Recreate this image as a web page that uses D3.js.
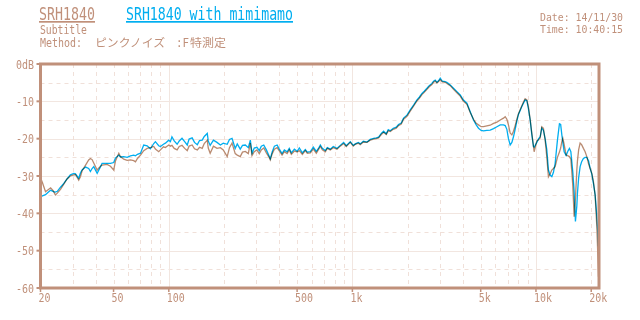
<!DOCTYPE html>
<html><head><meta charset="utf-8">
<script src="https://cdn.jsdelivr.net/npm/d3@7"></script>
<style>body{margin:0;background:#fff}svg{display:block}</style>
</head><body><svg id="c" width="640" height="320"></svg>
<script>
// ---- data ----
const freqs = [20,20.5,21.3,22.1,22.7,23.5,24.1,24.7,25.7,26.8,27.9,29.1,30.4,31.0,32.3,33.0,33.7,35.2,36.6,37.4,38.2,39.0,40.7,42.4,43.3,46.1,48.1,50.1,51.2,53.4,54.5,56.8,59.3,61.8,64.4,65.8,67.5,70.1,73.0,76.2,79.4,82.8,84.5,88.1,90.0,93.5,95.8,99.9,102,104,107,111,114,118,122,126,129,134,138,143,147,152,156,162,164,168,175,183,191,198,208,214,221,230,236,245,252,261,271,278,284,292,302,311,319,329,340,350,357,366,376,389,400,414,426,441,453,465,483,500,514,534,554,568,590,613,636,652,669,686,712,730,758,787,824,859,896,926,974,1011,1037,1077,1104,1147,1201,1251,1305,1350,1389,1437,1479,1529,1568,1608,1670,1734,1784,1846,1900,1983,2066,2154,2248,2314,2394,2462,2548,2622,2712,2768,2826,2888,2946,3010,3086,3204,3286,3412,3556,3710,3868,4016,4206,4384,4570,4726,4864,5030,5180,5402,5634,5872,6128,6386,6654,6798,6942,7082,7236,7392,7542,7704,7870,8030,8378,8548,8732,8920,9100,9298,9498,9690,9774,10110,10340,10540,10758,10982,11220,11460,11694,11948,12200,12452,12720,13092,13424,13630,13836,14012,14242,14602,14978,15220,15490,15740,15882,16142,16406,16698,16824,17080,17402,17732,18136,18530,18922,19356,19726,20152,20560,21000,21260,21460,21620,21900];
const mimimamo = [-35.5,-35.3,-35.0,-34.3,-33.8,-34.2,-34.3,-34.1,-33.0,-32.0,-30.8,-29.7,-29.3,-29.4,-30.6,-29.2,-28.4,-27.6,-28.0,-28.8,-28.0,-27.5,-29.3,-27.6,-26.6,-26.6,-26.6,-26.4,-25.2,-24.4,-24.9,-24.8,-25.0,-24.6,-24.4,-24.6,-24.2,-23.9,-21.7,-21.9,-22.7,-21.3,-20.8,-21.9,-22.1,-21.5,-21.2,-20.4,-20.8,-19.5,-20.6,-21.5,-20.6,-19.9,-20.8,-21.7,-20.1,-19.8,-21.0,-21.6,-20.5,-20.4,-19.4,-18.6,-20.6,-21.8,-20.4,-21.0,-21.7,-21.2,-21.5,-20.2,-19.9,-22.6,-21.4,-22.8,-21.8,-21.7,-22.4,-20.4,-23.9,-22.5,-22.3,-23.2,-22.0,-21.7,-23.0,-24.4,-25.4,-23.5,-22.0,-21.7,-22.8,-24.0,-23.0,-23.5,-22.6,-23.8,-22.8,-23.4,-22.5,-23.8,-22.9,-23.6,-23.5,-22.3,-23.4,-22.7,-21.7,-22.6,-23.2,-22.4,-22.8,-22.1,-22.6,-21.8,-21.0,-21.9,-20.8,-21.8,-21.4,-21.0,-21.4,-20.7,-20.9,-20.2,-19.9,-19.8,-19.6,-18.6,-18.0,-18.7,-17.6,-17.9,-17.2,-16.9,-16.2,-15.8,-14.5,-13.7,-12.3,-11.0,-9.6,-8.9,-7.9,-7.3,-6.5,-5.8,-5.2,-4.6,-4.3,-4.9,-4.5,-3.8,-4.6,-4.7,-5.0,-5.6,-6.5,-7.4,-8.3,-9.6,-10.5,-12.8,-15.0,-16.3,-17.2,-17.8,-17.9,-17.8,-17.7,-17.3,-16.8,-16.3,-16.3,-16.5,-17.5,-20.0,-21.7,-21.0,-19.5,-17.5,-15.3,-13.5,-11.4,-10.5,-9.6,-9.8,-12.0,-15.0,-19.0,-22.1,-22.3,-21.0,-20.0,-19.5,-17.2,-17.8,-20.0,-23.0,-28.4,-29.8,-30.2,-29.0,-26.6,-20.4,-16.0,-16.2,-19.0,-21.0,-23.5,-24.5,-23.2,-22.6,-23.5,-27.0,-29.0,-34.0,-42.2,-38.0,-34.6,-30.5,-27.5,-26.2,-25.3,-25.0,-25.0,-26.0,-27.9,-29.5,-32.0,-35.0,-38.2,-41.0,-43.6,-48.9];
const srh1840 = [-30.5,-31.8,-34.2,-33.6,-33.2,-34.0,-35.1,-34.6,-33.6,-32.2,-30.8,-30.0,-29.7,-29.6,-31.1,-30.2,-28.6,-27.1,-25.7,-25.3,-25.6,-26.5,-28.4,-27.4,-27.1,-26.9,-27.4,-28.4,-26.0,-23.9,-24.8,-25.5,-25.8,-25.7,-25.9,-26.2,-25.3,-24.4,-23.2,-22.6,-22.4,-22.1,-22.8,-23.5,-23.0,-22.2,-22.4,-21.7,-22.0,-21.8,-22.6,-23.0,-22.1,-21.8,-22.6,-23.2,-22.0,-21.7,-22.7,-23.0,-22.3,-22.6,-21.3,-20.4,-22.5,-23.9,-22.0,-22.6,-22.4,-23.0,-24.8,-22.4,-21.2,-24.0,-24.4,-24.8,-23.6,-23.4,-24.0,-21.2,-24.5,-23.5,-23.0,-24.0,-23.0,-22.5,-23.8,-24.8,-25.7,-24.0,-22.8,-22.4,-23.3,-24.4,-23.5,-24.0,-23.0,-24.2,-23.3,-23.6,-23.2,-24.2,-23.2,-23.9,-23.8,-22.8,-23.9,-23.0,-22.1,-23.0,-23.5,-22.6,-23.0,-22.4,-22.8,-22.0,-21.3,-22.1,-21.0,-22.0,-21.5,-21.2,-21.6,-20.9,-21.0,-20.4,-20.1,-20.0,-19.8,-18.9,-18.3,-18.9,-17.9,-18.1,-17.5,-17.2,-16.5,-16.1,-14.8,-14.0,-12.6,-11.3,-9.9,-9.2,-8.2,-7.6,-6.8,-6.1,-5.5,-4.9,-4.6,-5.1,-4.7,-4.2,-4.8,-4.9,-5.3,-5.8,-6.8,-7.7,-8.6,-9.9,-10.8,-13.0,-14.8,-15.9,-16.3,-16.8,-16.8,-16.6,-16.4,-15.9,-15.6,-15.0,-14.5,-14.1,-14.8,-16.3,-18.5,-19.0,-18.0,-16.5,-14.8,-13.3,-11.2,-10.2,-9.3,-9.6,-11.5,-14.8,-18.6,-22.0,-23.5,-20.6,-20.3,-19.8,-16.8,-17.2,-20.4,-25.0,-30.2,-29.4,-28.4,-28.0,-27.5,-25.0,-23.6,-22.5,-20.8,-19.9,-21.5,-24.4,-24.6,-24.8,-25.5,-30.0,-32.9,-40.9,-36.0,-28.4,-26.0,-23.0,-21.2,-21.6,-22.6,-23.5,-24.8,-26.8,-28.0,-29.3,-31.5,-35.1,-40.0,-43.6,-48.0,-57.0];

const yTicks = [0,-10,-20,-30,-40,-50,-60];
const yTickLabels = ["0dB","-10","-20","-30","-40","-50","-60"];
const yMinor = [-5,-15,-25,-35,-45,-55];
const xTicks = [20,50,100,500,1000,5000,10000,20000];
const xTickLabels = ["20","50","100","500","1k","5k","10k","20k"];
const xMajorGrid = [100,1000,10000];
const xMinorGrid = [30,40,50,60,70,80,90,200,300,400,500,600,700,800,900,2000,3000,4000,5000,6000,7000,8000,9000,20000];
const seriesNames = ["SRH1840","SRH1840 with mimimamo"];

// ---- drawing ----
const svg = d3.select("#c");
const W = 640, H = 320;
const L = 40.5, R = 599, T = 64, B = 288;
const brown = "#c0907a", blue = "#00aef0";
const gridSolid = "#f2e6e0", gridDash = "#f0e0d9";
const mono = "'DejaVu Sans Mono','Liberation Mono',monospace";
const cjk = "'Noto Sans CJK JP',sans-serif";

const x = d3.scaleLog().domain([20, 22050]).range([L, R]);
const y = d3.scaleLinear().domain([-60, 0]).range([B, T]);

svg.append("rect").attr("width", W).attr("height", H).attr("fill", "#fff");

const g = svg.append("g");
g.selectAll(".hm").data(yTicks.slice(1, -1)).join("line")
  .attr("x1", L).attr("x2", R).attr("y1", d => Math.round(y(d)) + 0.5).attr("y2", d => Math.round(y(d)) + 0.5)
  .attr("stroke", gridSolid).attr("stroke-width", 1);
g.selectAll(".hd").data(yMinor).join("line")
  .attr("x1", L).attr("x2", R).attr("y1", d => Math.round(y(d)) + 0.5).attr("y2", d => Math.round(y(d)) + 0.5)
  .attr("stroke", gridDash).attr("stroke-width", 1).attr("stroke-dasharray", "4,4");
g.selectAll(".vm").data(xMajorGrid).join("line")
  .attr("y1", T).attr("y2", B).attr("x1", d => Math.round(x(d)) + 0.5).attr("x2", d => Math.round(x(d)) + 0.5)
  .attr("stroke", gridSolid).attr("stroke-width", 1);
g.selectAll(".vd").data(xMinorGrid).join("line")
  .attr("y1", T).attr("y2", B).attr("x1", d => Math.round(x(d)) + 0.5).attr("x2", d => Math.round(x(d)) + 0.5)
  .attr("stroke", gridDash).attr("stroke-width", 1).attr("stroke-dasharray", "4,4");

// curves
const line = d3.line().x((d, i) => x(freqs[i])).y(d => y(d));
const curves = svg.append("g").style("isolation", "isolate");
curves.append("path").datum(srh1840).attr("d", line)
  .attr("fill", "none").attr("stroke", "#b98a70").attr("stroke-width", 1.3)
  .style("mix-blend-mode", "multiply");
curves.append("path").datum(mimimamo).attr("d", line)
  .attr("fill", "none").attr("stroke", blue).attr("stroke-width", 1.3)
  .style("mix-blend-mode", "multiply");

// frame
svg.append("rect").attr("x", L).attr("y", T).attr("width", R - L).attr("height", B - T)
  .attr("fill", "none").attr("stroke", brown).attr("stroke-width", 3);

// y axis
svg.selectAll(".yt").data(yTicks).join("line")
  .attr("x1", L - 4).attr("x2", L).attr("y1", d => y(d)).attr("y2", d => y(d))
  .attr("stroke", brown).attr("stroke-width", 2);
svg.selectAll(".yl").data(yTicks).join("text")
  .attr("x", 34).attr("y", d => y(d) + 4.5)
  .attr("text-anchor", "end").attr("font-family", mono).attr("font-size", 12)
  .attr("textLength", (d, i) => yTickLabels[i].length * 6).attr("lengthAdjust", "spacingAndGlyphs")
  .attr("fill", brown).text((d, i) => yTickLabels[i]);

// x axis
svg.selectAll(".xt").data(xTicks).join("line")
  .attr("x1", d => x(d)).attr("x2", d => x(d)).attr("y1", B).attr("y2", B + 4)
  .attr("stroke", brown).attr("stroke-width", 1.5);
svg.selectAll(".xl").data(xTicks).join("text")
  .attr("x", d => x(d) - 2).attr("y", 302)
  .attr("font-family", mono).attr("font-size", 12)
  .attr("textLength", (d, i) => xTickLabels[i].length * 6).attr("lengthAdjust", "spacingAndGlyphs")
  .attr("fill", brown).text((d, i) => xTickLabels[i]);

// titles
svg.append("text").attr("x", 39).attr("y", 20).attr("font-family", mono).attr("font-size", 17)
  .attr("textLength", 56).attr("lengthAdjust", "spacingAndGlyphs")
  .attr("fill", brown).attr("text-decoration", "underline").text(seriesNames[0]);
svg.append("text").attr("x", 126).attr("y", 20).attr("font-family", mono).attr("font-size", 17)
  .attr("textLength", 167).attr("lengthAdjust", "spacingAndGlyphs")
  .attr("fill", blue).attr("text-decoration", "underline").text(seriesNames[1]);
svg.append("text").attr("x", 40).attr("y", 34).attr("font-family", mono).attr("font-size", 11.5)
  .attr("textLength", 47).attr("lengthAdjust", "spacingAndGlyphs")
  .attr("fill", brown).text("Subtitle");
const m = svg.append("text").attr("y", 46.5).attr("fill", brown).attr("font-size", 11.5);
m.append("tspan").attr("x", 40).attr("font-family", mono).attr("textLength", 42).attr("lengthAdjust", "spacingAndGlyphs").text("Method:");
m.append("tspan").attr("x", 95).attr("font-family", cjk).attr("textLength", 70).attr("lengthAdjust", "spacingAndGlyphs").text("ピンクノイズ");
m.append("tspan").attr("x", 176).attr("font-family", mono).attr("textLength", 13).attr("lengthAdjust", "spacingAndGlyphs").text(":F");
m.append("tspan").attr("x", 190).attr("font-family", cjk).attr("textLength", 36).attr("lengthAdjust", "spacingAndGlyphs").text("特測定");
svg.append("text").attr("x", 540).attr("y", 20.5).attr("font-family", mono).attr("font-size", 10.5)
  .attr("textLength", 83).attr("lengthAdjust", "spacingAndGlyphs").attr("fill", brown).text("Date: 14/11/30");
svg.append("text").attr("x", 540).attr("y", 33).attr("font-family", mono).attr("font-size", 10.5)
  .attr("textLength", 83).attr("lengthAdjust", "spacingAndGlyphs").attr("fill", brown).text("Time: 10:40:15");
</script></body></html>
